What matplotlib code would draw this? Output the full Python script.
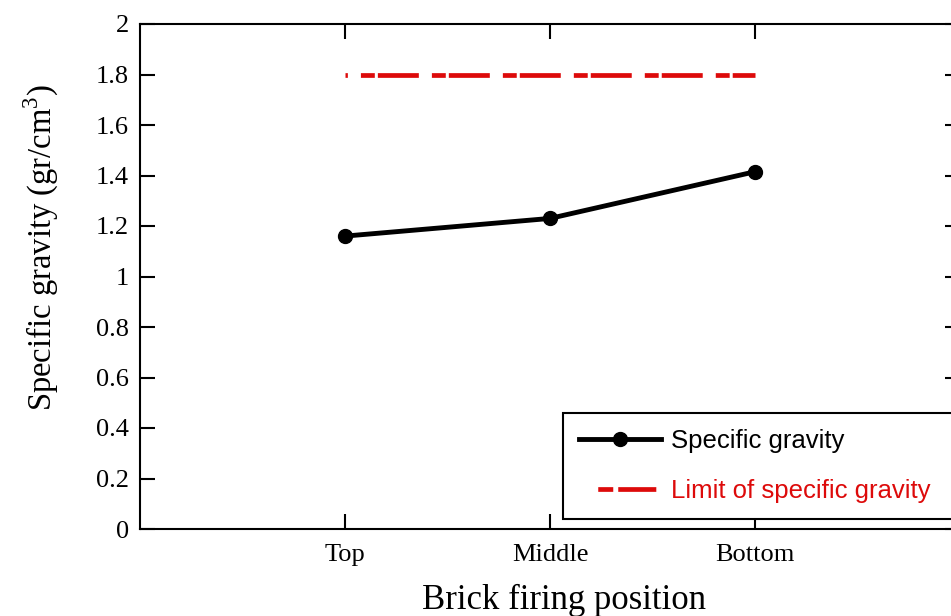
import matplotlib
matplotlib.use("Agg")
import matplotlib.pyplot as plt
from matplotlib.lines import Line2D

categories = ["Top", "Middle", "Bottom"]
specific_gravity = [1.16, 1.23, 1.415]
limit_value = [1.8, 1.8, 1.8]
y_ticks = [0, 0.2, 0.4, 0.6, 0.8, 1, 1.2, 1.4, 1.6, 1.8, 2]
y_tick_labels = ["0", "0.2", "0.4", "0.6", "0.8", "1", "1.2", "1.4", "1.6", "1.8", "2"]

plt.rcParams['mathtext.fontset'] = 'custom'
plt.rcParams['mathtext.rm'] = 'Liberation Serif'
plt.rcParams['lines.scale_dashes'] = False

fig = plt.figure(figsize=(9.51, 6.16), dpi=100)
ax = fig.add_axes([140/951, 1-529/616, (960-140)/951, (529-24)/616])

x = [1, 2, 3]
red = "#DD0A0A"
l2, = ax.plot(x, limit_value, color=red, lw=3.4,
              linestyle=(40, (10, 2.2, 29.5, 9.4)),
              dash_capstyle='butt', label="Limit of specific gravity")
l1, = ax.plot(x, specific_gravity, color="black", lw=3.5, marker='o', markersize=10,
              label="Specific gravity")

ax.set_xlim(0, 4)
ax.set_ylim(0, 2)
ax.set_xticks(x)
ax.set_xticklabels(categories, fontfamily="Liberation Serif", fontsize=19)
ax.set_yticks(y_ticks)
ax.set_yticklabels(y_tick_labels, fontfamily="Liberation Serif", fontsize=19)
ax.tick_params(direction='in', length=11, width=1.5, top=True, right=True, pad=8)
ax.tick_params(axis='x', pad=11)
for s in ax.spines.values():
    s.set_linewidth(1.5)

ax.set_xlabel("Brick firing position", fontfamily="Liberation Serif", fontsize=25, labelpad=13)
ax.set_ylabel(r"Specific gravity (gr/cm$^3$)", fontfamily="Liberation Serif", fontsize=23.5, labelpad=25)
ax.xaxis.label.set_x(0.517)
ax.yaxis.label.set_y(0.558)

leg_h2 = Line2D([], [], color=red, lw=3.4, dash_capstyle='butt',
                linestyle=(42, (10.8, 3.6, 27.4, 13.7)))
leg = fig.legend([l1, leg_h2], ["Specific gravity", "Limit of specific gravity"],
                 loc='upper left', bbox_to_anchor=(563/951, 1-519/616, 0.5, 106/616),
                 mode='expand', prop={'family': 'Liberation Sans', 'size': 18.5},
                 frameon=True, fancybox=False, edgecolor='black', framealpha=1,
                 handlelength=3.2, handletextpad=0.4,
                 labelspacing=1.0, borderpad=0.62, borderaxespad=0)
leg.get_frame().set_linewidth(1.5)
leg.get_texts()[1].set_color(red)

fig.savefig("out.png", dpi=100)
